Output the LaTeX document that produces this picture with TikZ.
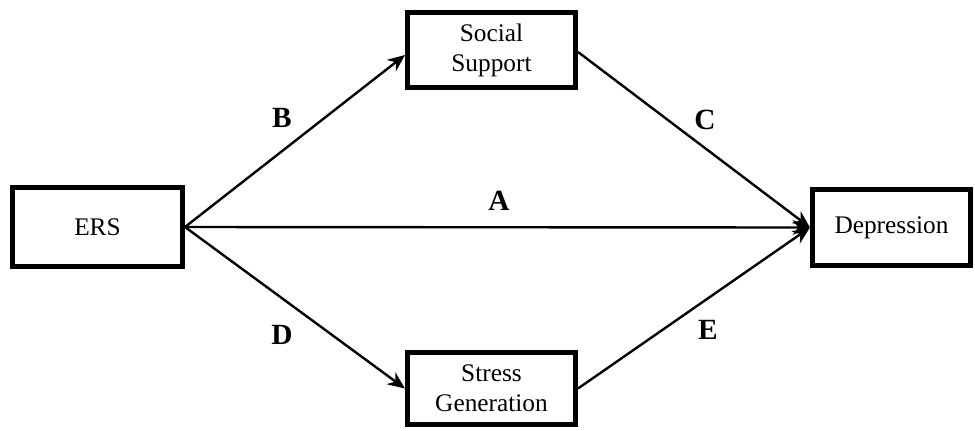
\documentclass[tikz,border=0pt]{standalone}
\usepackage{fontspec}
\setmainfont{Liberation Serif}
\usetikzlibrary{arrows, arrows.meta, calc}

\tikzset{
  varbox/.style={draw, line width=3.75pt, align=center, inner sep=0pt,
    font=\fontsize{19}{22.5}\selectfont},
  link/.style={line width=1.8pt, -{Stealth[length=13pt,width=11pt]}},
  lbl/.style={font=\fontsize{22}{26}\selectfont\bfseries}
}

\begin{document}
\begin{tikzpicture}[x=0.75pt, y=-0.75pt]
    \useasboundingbox (0,0) rectangle (975,430);

    % variables
    \node[varbox, minimum width=127.5pt, minimum height=59pt] (ers) at (97.5,227) {ERS};
    \node[varbox, minimum width=126pt, minimum height=56pt] (ss) at (491.5,50) {Social\\Support};
    \node[varbox, minimum width=126pt, minimum height=54pt] (sg) at (491.5,388.5) {Stress\\Generation};
    \node[varbox, minimum width=118.5pt, minimum height=57pt] (dep) at (891.5,227.5) {Depression};

    % paths
    \draw[link] (ers.east) -- (dep.west);
    \draw[link] (ers.east) -- ($(ss.west)+(0,5)$);
    \draw[link] (ers.east) -- (sg.west);
    \draw[link] ($(ss.east)+(0,2)$) -- (dep.west);
    \draw[link] (sg.east) -- (dep.west);

    \node[lbl] (la) at (499,201) {A};
    \node[lbl] (lb) at (282,118) {B};
    \node[lbl] (lc) at (705,120) {C};
    \node[lbl] (ld) at (282,335) {D};
    \node[lbl] (le) at (708,330) {E};
\end{tikzpicture}
\end{document}
